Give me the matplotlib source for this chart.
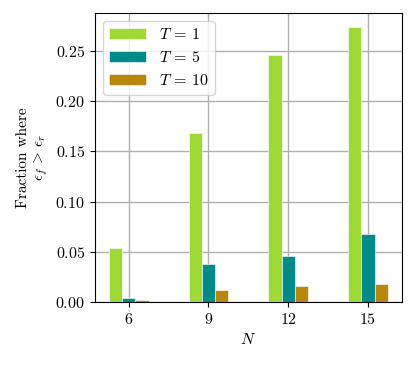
import numpy as np
import matplotlib
matplotlib.use("Agg")
import matplotlib.pyplot as plt

plt.rcParams['font.family'] = 'serif'
plt.rcParams['font.serif'] = ['cmr10']
plt.rcParams['mathtext.fontset'] = 'cm'
plt.rcParams['axes.formatter.use_mathtext'] = True
plt.rcParams['font.size'] = 11.5

N = [6, 9, 12, 15]
T_labels = ["$T\\,=\\,1$", "$T\\,=\\,5$", "$T\\,=\\,10$"]
frac_T1 = [0.054, 0.168, 0.246, 0.274]
frac_T5 = [0.004, 0.038, 0.046, 0.068]
frac_T10 = [0.002, 0.012, 0.016, 0.018]
colors = ['#9fd934', 'darkcyan', 'darkgoldenrod']

fig = plt.figure(figsize=(4.16, 3.67), dpi=100)
ax = fig.add_axes([0.228, 0.177, 0.738, 0.788])

x = np.array(N, dtype=float)
w = 0.5
for k, (vals, lab, c) in enumerate(zip([frac_T1, frac_T5, frac_T10], T_labels, colors)):
    ax.bar(x + (k - 1) * w, vals, width=w, color=c, label=lab,
           edgecolor='white', linewidth=0.4, zorder=3)

ax.set_xticks(N)
ax.grid(True, color='#b0b0b0', linewidth=1.0, zorder=0)
ax.set_axisbelow(True)
ax.set_xlabel("$N$")
ax.set_ylabel("Fraction where\n$\\epsilon_f\\,>\\,\\epsilon_r$", fontsize=11)
ax.legend(loc='upper left', handlelength=2.3)

fig.savefig("out.png", dpi=100)
